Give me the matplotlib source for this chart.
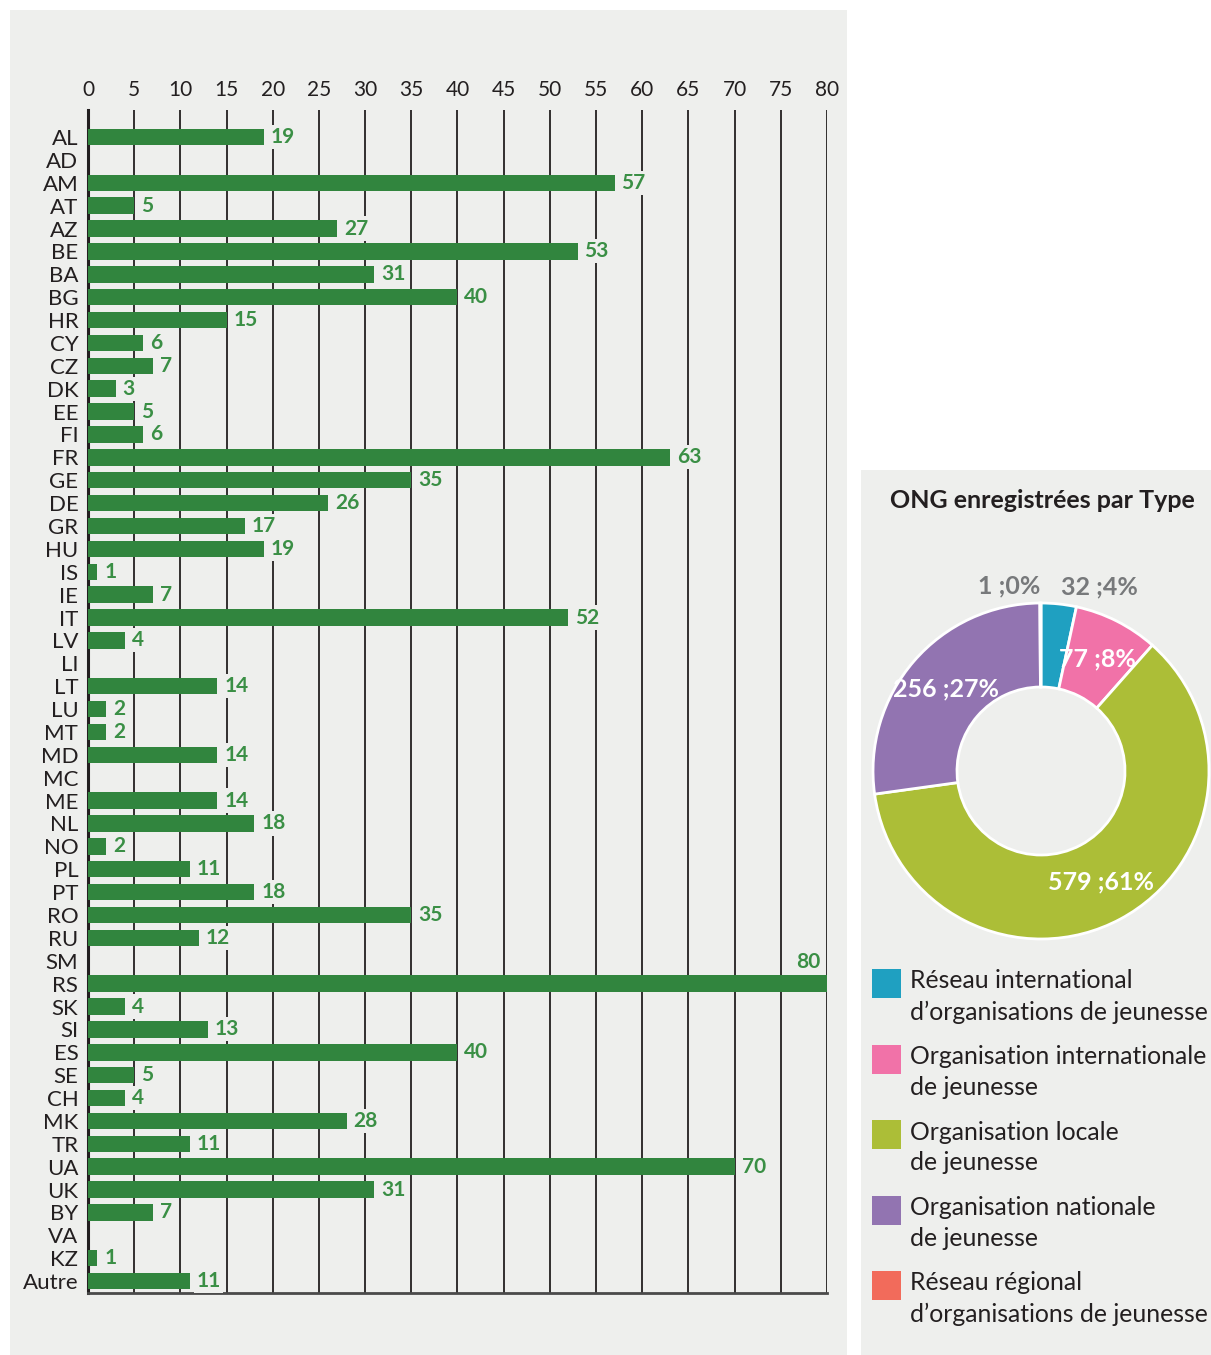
import numpy as np
import matplotlib
matplotlib.use("Agg")
import matplotlib.pyplot as plt
from matplotlib.patches import Rectangle

plt.rcParams['font.family'] = ['Lato', 'DejaVu Sans']

# données : ONG par pays
pays = ['AL', 'AD', 'AM', 'AT', 'AZ', 'BE', 'BA', 'BG', 'HR', 'CY', 'CZ', 'DK', 'EE',
        'FI', 'FR', 'GE', 'DE', 'GR', 'HU', 'IS', 'IE', 'IT', 'LV', 'LI', 'LT', 'LU',
        'MT', 'MD', 'MC', 'ME', 'NL', 'NO', 'PL', 'PT', 'RO', 'RU', 'SM', 'RS', 'SK',
        'SI', 'ES', 'SE', 'CH', 'MK', 'TR', 'UA', 'UK', 'BY', 'VA', 'KZ', 'Autre']
nombre = [19, 0, 57, 5, 27, 53, 31, 40, 15, 6, 7, 3, 5,
          6, 63, 35, 26, 17, 19, 1, 7, 52, 4, 0, 14, 2,
          2, 14, 0, 14, 18, 2, 11, 18, 35, 12, 0, 80, 4,
          13, 40, 5, 4, 28, 11, 70, 31, 7, 0, 1, 11]
xticks = list(range(0, 85, 5))

# données : ONG par type
types = ["Réseau international\nd’organisations de jeunesse",
         "Organisation internationale\nde jeunesse",
         "Organisation locale\nde jeunesse",
         "Organisation nationale\nde jeunesse",
         "Réseau régional\nd’organisations de jeunesse"]
types_val = [32, 77, 579, 256, 1]
types_pct = ['4%', '8%', '61%', '27%', '0%']
couleurs = ['#1fa0c1', '#f172a8', '#acbe37', '#9274b1', '#f26b5b']

W, H = 1211, 1355
fig = plt.figure(figsize=(W / 100, H / 100), dpi=100)
fig.patch.set_facecolor('white')

fond = '#eeefed'
fig.patches.append(Rectangle((10 / W, 0), 837 / W, 1 - 10 / H, transform=fig.transFigure,
                             facecolor=fond, edgecolor='none', zorder=-10))
fig.patches.append(Rectangle((861 / W, 0), 350 / W, 1 - 470 / H, transform=fig.transFigure,
                             facecolor=fond, edgecolor='none', zorder=-10))

# barres
ax = fig.add_axes([88 / W, 1 - 1293 / H, 739 / W, 1183 / H])
ax.set_facecolor('none')
y = np.arange(len(pays))
ax.barh(y, nombre, height=0.72, color='#31853e', zorder=3)
ax.set_xlim(0, 80)
ax.set_ylim(len(pays) - 0.48, -1.18)
ax.set_yticks(y)
ax.set_yticklabels(pays, fontsize=16, color='#231f20')
ax.xaxis.tick_top()
ax.set_xticks(xticks)
ax.set_xticklabels([str(t) for t in xticks], fontsize=15, color='#231f20')
ax.tick_params(axis='both', length=0)
ax.tick_params(axis='x', pad=7)
ax.tick_params(axis='y', pad=7)
ax.grid(axis='x', color='#231f20', lw=1.3, zorder=1)
ax.grid(axis='y', visible=False)
ax.set_axisbelow(True)
for s in ['top', 'right']:
    ax.spines[s].set_visible(False)
ax.spines['left'].set_linewidth(2.2)
ax.spines['left'].set_color('#231f20')
ax.spines['bottom'].set_linewidth(2)
ax.spines['bottom'].set_color('#4a4a4a')

vmax = max(nombre)
boite = dict(boxstyle='square,pad=0.1', facecolor=fond, edgecolor='none')
for i, v in enumerate(nombre):
    if v == 0:
        continue
    if v == vmax:
        ax.annotate(str(v), (v, i - 0.95), xytext=(-5, 0), textcoords='offset points',
                    ha='right', va='center', fontsize=15, fontweight='bold',
                    color='#3a8f45', bbox=boite, zorder=4)
    else:
        ax.annotate(str(v), (v, i), xytext=(5, 0), textcoords='offset points',
                    ha='left', va='center', fontsize=15, fontweight='bold',
                    color='#3a8f45', bbox=boite, zorder=4)

# anneau
cx, cy, R = 1041, 771, 170
ax2 = fig.add_axes([(cx - R) / W, 1 - (cy + R) / H, 2 * R / W, 2 * R / H])
ax2.set_facecolor('none')
wedges, _ = ax2.pie(types_val, colors=couleurs, startangle=90, counterclock=False,
                    radius=1, wedgeprops=dict(width=0.5, edgecolor='white', linewidth=2))
ax2.set_xlim(-1.012, 1.012)
ax2.set_ylim(-1.012, 1.012)
ax2.set_aspect('equal')
ax2.axis('off')

for i, w in enumerate(wedges):
    ang = np.deg2rad((w.theta1 + w.theta2) / 2)
    txt = '%d ;%s' % (types_val[i], types_pct[i])
    if types_val[i] / sum(types_val) < 0.05:
        ha = 'left' if i == 0 else 'right'
        ax2.text(1.1 * np.cos(ang), 1.1 * np.sin(ang), txt, ha=ha, va='center',
                 fontsize=18, fontweight='bold', color='#77797b', clip_on=False)
    else:
        ax2.text(0.75 * np.cos(ang), 0.75 * np.sin(ang), txt, ha='center', va='center',
                 fontsize=18, fontweight='bold', color='white')

fig.text(1042 / W, 1 - 500 / H, 'ONG enregistrées par Type', ha='center', va='center',
         fontsize=18, fontweight='bold', color='#231f20')

# légende
for i, lab in enumerate(types):
    yc = 983.5 + i * 75.5
    fig.patches.append(Rectangle((872 / W, 1 - (yc + 14.5) / H), 29 / W, 29 / H,
                                 transform=fig.transFigure, facecolor=couleurs[i],
                                 edgecolor='none'))
    fig.text(910 / W, 1 - (yc - 14) / H, lab, ha='left', va='top', fontsize=17.8,
             color='#231f20', linespacing=1.4)

fig.savefig('out.png', dpi=100, facecolor=fig.get_facecolor())
